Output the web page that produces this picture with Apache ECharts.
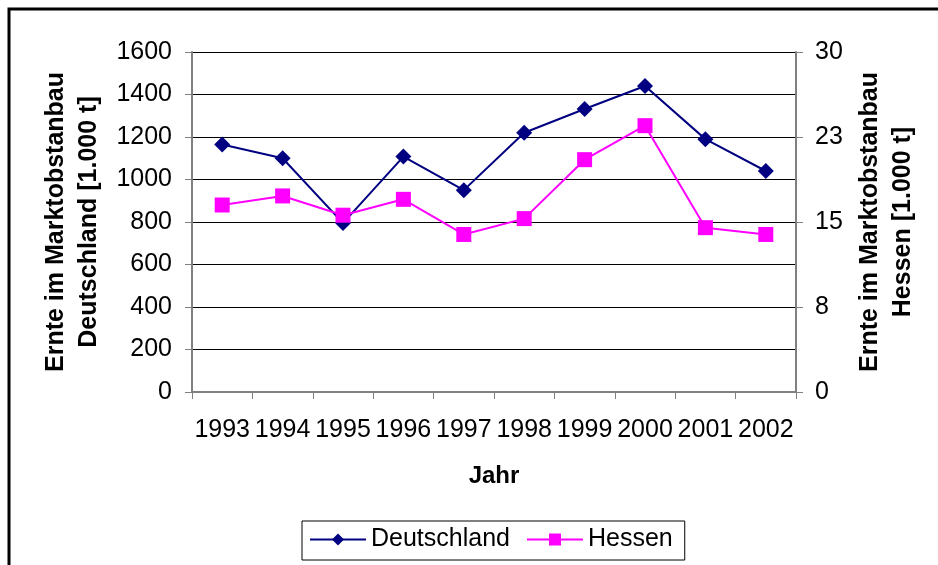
<!DOCTYPE html>
<html>
<head>
<meta charset="utf-8">
<script src="https://cdn.jsdelivr.net/npm/echarts@6/dist/echarts.min.js"></script>
<style>
  html, body { margin: 0; padding: 0; background: #fff; }
  #chart { width: 938px; height: 565px; }
</style>
</head>
<body>
<div id="chart"></div>
<script>
// values
const years = ['1993', '1994', '1995', '1996', '1997', '1998', '1999', '2000', '2001', '2002']
const deutschland = [1165, 1100, 795, 1108, 950, 1220, 1332, 1440, 1190, 1040]
const hessen = [16.5, 17.3, 15.6, 17.0, 13.9, 15.3, 20.5, 23.5, 14.5, 13.9]

const font = 'Liberation Sans, Arial, sans-serif'
const axisLine = { show: true, lineStyle: { color: '#808080', width: 2 } }

const chart = echarts.init(document.getElementById('chart'))
chart.setOption({
  backgroundColor: '#fff',
  animation: false,
  textStyle: { fontFamily: font, color: '#000' },
  grid: { left: 192, right: 142, top: 52, bottom: 173 },
  graphic: [
    {
      type: 'rect',
      shape: { x: 9, y: 9, width: 1200, height: 1200 },
      style: { fill: 'none', stroke: '#000', lineWidth: 3 },
      silent: true
    }
  ],
  legend: {
    data: ['Deutschland', 'Hessen'],
    left: 302,
    top: 521,
    itemWidth: 56,
    itemHeight: 15,
    itemGap: 16,
    padding: [6, 12, 8, 7],
    borderColor: '#000',
    borderWidth: 1,
    borderRadius: 0,
    textStyle: { fontFamily: font, fontSize: 25, color: '#000' }
  },
  xAxis: {
    type: 'category',
    data: years,
    boundaryGap: true,
    name: 'Jahr',
    nameLocation: 'middle',
    nameGap: 72,
    nameTextStyle: { fontFamily: font, fontSize: 24, fontWeight: 'bold', color: '#000' },
    axisLine: axisLine,
    axisTick: { show: true, length: 7, lineStyle: { color: '#808080' } },
    axisLabel: { fontFamily: font, fontSize: 25, color: '#000', margin: 26, interval: 0 }
  },
  yAxis: [
    {
      type: 'value',
      min: 0,
      max: 1600,
      interval: 200,
      name: 'Ernte im Marktobstanbau\nDeutschland [1.000 t]',
      nameLocation: 'middle',
      nameRotate: 90,
      nameGap: 86,
      nameTextStyle: { fontFamily: font, fontSize: 25, fontWeight: 'bold', color: '#000', lineHeight: 33 },
      axisLine: axisLine,
      axisTick: { show: true, length: 7, lineStyle: { color: '#808080' } },
      axisLabel: {
        fontFamily: font,
        fontSize: 25,
        color: '#000',
        margin: 20,
        formatter: function (v) { return String(v) }
      },
      splitLine: { show: true, lineStyle: { color: '#000', width: 1 } }
    },
    {
      type: 'value',
      min: 0,
      max: 30,
      interval: 7.5,
      position: 'right',
      name: 'Ernte im Marktobstanbau\nHessen [1.000 t]',
      nameLocation: 'middle',
      nameRotate: 90,
      nameGap: 58,
      nameTextStyle: { fontFamily: font, fontSize: 25, fontWeight: 'bold', color: '#000', lineHeight: 33 },
      axisLine: axisLine,
      axisTick: { show: true, length: 7, lineStyle: { color: '#808080' } },
      axisLabel: {
        fontFamily: font,
        fontSize: 25,
        color: '#000',
        margin: 19,
        formatter: function (v) { return String(Math.round(v)) }
      },
      splitLine: { show: false }
    }
  ],
  series: [
    {
      name: 'Deutschland',
      type: 'line',
      yAxisIndex: 0,
      data: deutschland,
      symbol: 'diamond',
      symbolSize: 16,
      color: '#000080',
      lineStyle: { color: '#000080', width: 2 },
      itemStyle: { color: '#000080' }
    },
    {
      name: 'Hessen',
      type: 'line',
      yAxisIndex: 1,
      data: hessen,
      symbol: 'rect',
      symbolSize: 15,
      color: '#ff00ff',
      lineStyle: { color: '#ff00ff', width: 2 },
      itemStyle: { color: '#ff00ff' }
    }
  ]
})
</script>
</body>
</html>
